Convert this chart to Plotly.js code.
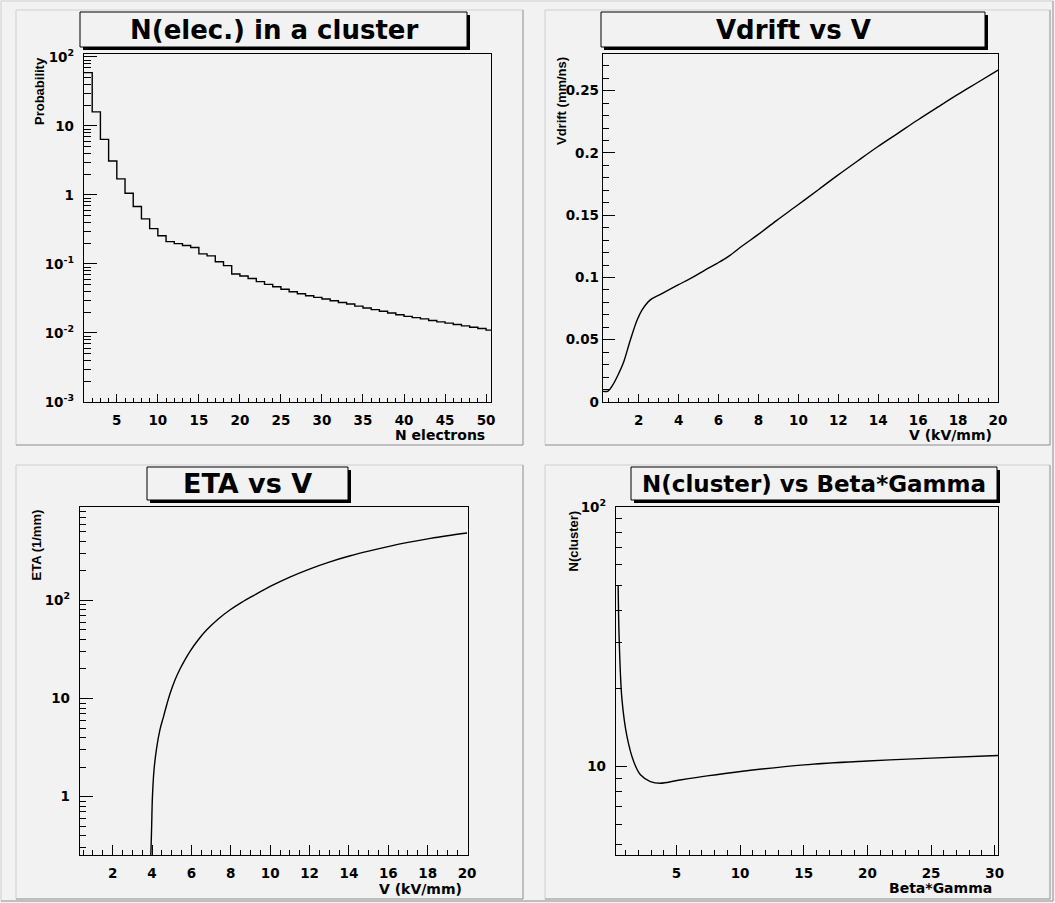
<!DOCTYPE html>
<html><head><meta charset="utf-8">
<script src="https://cdn.plot.ly/plotly-3.0.1.min.js"></script>
<style>html,body{margin:0;padding:0;background:#f2f2f2;overflow:hidden}#chart{width:1055px;height:903px}</style>
</head><body><div id="chart"></div>
<script>
// ---------- Data ----------
const nElectrons = [1,2,3,4,5,6,7,8,9,10,11,12,13,14,15,16,17,18,19,20,21,22,23,24,25,26,27,28,29,30,31,32,33,34,35,36,37,38,39,40,41,42,43,44,45,46,47,48,49,50];
const probability = [59.3,16.0,6.4,3.1,1.71,1.06,0.68,0.45,0.325,0.257,0.211,0.197,0.185,0.173,0.140,0.131,0.108,0.0946,0.0716,0.067,0.0615,0.0555,0.0507,0.0469,0.043,0.0395,0.0370,0.0347,0.0328,0.0311,0.0293,0.0277,0.0263,0.0245,0.0230,0.0218,0.0207,0.0195,0.0184,0.0174,0.0167,0.0160,0.0152,0.0145,0.0139,0.0133,0.0127,0.0121,0.0116,0.0110];

const vField = [0.21,0.46,0.7,1.0,1.25,1.58,1.92,2.17,2.58,3.09,3.97,4.76,5.3,5.93,6.5,7.2,7.94,8.9,9.95,11.0,11.96,13.0,13.97,15.0,15.98,17.0,17.99,19.0,20.0];
const vDrift = [0.0085,0.0088,0.0137,0.023,0.0324,0.0498,0.0659,0.074,0.082,0.0865,0.094,0.1007,0.1058,0.1114,0.117,0.1255,0.134,0.1457,0.158,0.1705,0.182,0.194,0.205,0.216,0.2265,0.237,0.247,0.2568,0.2666];

const etaField = [3.92,3.95,3.98,4.02,4.10,4.24,4.4,4.58,4.75,4.92,5.17,5.42,5.67,5.93,6.35,6.78,7.35,7.97,8.55,9.15,10.0,11.0,12.03,13.0,14.07,15.0,16.1,17.0,18.14,19.0,20.0];
const eta = [0.2,0.3,0.5,1.0,1.87,3.2,4.8,6.5,8.7,11.3,15.5,20.0,24.8,30.3,39.7,50.1,64.3,80.2,95.5,112,139,173,210,246,285,318,358,390,429,456,486];

const betaGamma = [0.42,0.5,0.72,1.12,1.64,2.17,2.95,3.74,5.05,7.41,10.04,15.03,20.02,25.0,30.26];
const nCluster = [50,31,18.1,13.0,10.45,9.29,8.75,8.62,8.83,9.2,9.57,10.15,10.5,10.77,11.03];

const probTickVals = [0.001,0.01,0.1,1,10,100];
const probTickText = ['10<sup>-3</sup>','10<sup>-2</sup>','10<sup>-1</sup>','1','10','10<sup>2</sup>'];
const nElecTickVals = [5,10,15,20,25,30,35,40,45,50];
const nElecTickText = ['5','10','15','20','25','30','35','40','45','50'];
const fieldTickVals = [2,4,6,8,10,12,14,16,18,20];
const fieldTickText = ['2','4','6','8','10','12','14','16','18','20'];
const vdriftTickVals = [0,0.05,0.1,0.15,0.2,0.25];
const vdriftTickText = ['0','0.05','0.1','0.15','0.2','0.25'];
const etaTickVals = [1,10,100];
const etaTickText = ['1','10','10<sup>2</sup>'];
const bgTickVals = [5,10,15,20,25,30];
const bgTickText = ['5','10','15','20','25','30'];
const nclTickVals = [10,100];
const nclTickText = ['10','10<sup>2</sup>'];

const titles = ['N(elec.) in a cluster','Vdrift vs V','ETA vs V','N(cluster) vs Beta*Gamma'];
const titleSizes = [26, 26, 27, 23];

// ---------- Helpers ----------
const W = 1055, H = 903;
const X = p => p / W;
const Y = p => 1 - p / H;
const WIDE = 'DejaVu Sans, Verdana, sans-serif';
const NARROW = 'Liberation Sans, Arial, Helvetica, sans-serif';
const BG = '#f2f2f2';
const B = s => '<b>' + s + '</b>';

function logMinors(lo, hi) {
  const out = [];
  for (let e = lo; e <= hi; e++) for (let m = 2; m <= 9; m++) out.push(m * Math.pow(10, e));
  return out;
}

function baseAxis(extra) {
  return Object.assign({
    showgrid: false, zeroline: false, showline: true, mirror: true,
    linecolor: '#000', linewidth: 1.3, ticks: 'inside', tickcolor: '#000', tickwidth: 1,
    tickfont: {family: WIDE, size: 13.5, color: '#000'},
    tickmode: 'array', fixedrange: true
  }, extra);
}

// step outline of the histogram built from its bins
const stepX = nElectrons.concat([nElectrons[nElectrons.length - 1] + 1]);
const stepY = probability.concat([probability[probability.length - 1]]);

const lineStyle = {color: '#000', width: 1.4};

const data = [
  {x: stepX, y: stepY, xaxis: 'x', yaxis: 'y', mode: 'lines', line: Object.assign({shape: 'hv'}, lineStyle), hoverinfo: 'skip'},
  {x: vField, y: vDrift, xaxis: 'x2', yaxis: 'y2', mode: 'lines', line: Object.assign({shape: 'spline', smoothing: 1}, lineStyle), hoverinfo: 'skip'},
  {x: etaField, y: eta, xaxis: 'x3', yaxis: 'y3', mode: 'lines', line: Object.assign({shape: 'spline', smoothing: 1}, lineStyle), hoverinfo: 'skip'},
  {x: betaGamma, y: nCluster, xaxis: 'x4', yaxis: 'y4', mode: 'lines', line: Object.assign({shape: 'spline', smoothing: 1}, lineStyle), hoverinfo: 'skip'}
];

// frames [left, right, top, bottom] in pixels
const F1 = [84, 491, 54, 402], F2 = [603, 998, 54, 402], F3 = [80, 468, 507, 855], F4 = [616, 998, 507, 855];

const xStand = 5, yStand = 6;

const layout = {
  width: W, height: H, margin: {l: 0, r: 0, t: 0, b: 0},
  paper_bgcolor: BG, plot_bgcolor: BG, showlegend: false,
  xaxis: baseAxis({domain: [X(F1[0]), X(F1[1])], anchor: 'y', range: [1, 50.6], tickvals: nElecTickVals, ticktext: nElecTickText.map(B), ticklen: 8, ticklabelstandoff: xStand,
    minor: {tickmode: 'linear', tick0: 0, dtick: 1, ticks: 'inside', ticklen: 4, tickcolor: '#000'}}),
  yaxis: baseAxis({domain: [Y(F1[3]), Y(F1[2])], anchor: 'x', type: 'log', range: [-3, 2.043], tickvals: probTickVals, ticktext: probTickText.map(B), ticklen: 13, ticklabelstandoff: yStand,
    minor: {tickmode: 'array', tickvals: logMinors(-3, 1), ticks: 'inside', ticklen: 7, tickcolor: '#000'}}),
  xaxis2: baseAxis({domain: [X(F2[0]), X(F2[1])], anchor: 'y2', range: [0.21, 20], tickvals: fieldTickVals, ticktext: fieldTickText.map(B), ticklen: 8, ticklabelstandoff: xStand,
    minor: {tickmode: 'linear', tick0: 0, dtick: 0.5, ticks: 'inside', ticklen: 4, tickcolor: '#000'}}),
  yaxis2: baseAxis({domain: [Y(F2[3]), Y(F2[2])], anchor: 'x2', range: [0, 0.2795], tickvals: vdriftTickVals, ticktext: vdriftTickText.map(B), ticklen: 12, ticklabelstandoff: 0,
    minor: {tickmode: 'linear', tick0: 0, dtick: 0.01, ticks: 'inside', ticklen: 6, tickcolor: '#000'}}),
  xaxis3: baseAxis({domain: [X(F3[0]), X(F3[1])], anchor: 'y3', range: [0.34, 20.05], tickvals: fieldTickVals, ticktext: fieldTickText.map(B), ticklen: 10, ticklabelstandoff: xStand,
    minor: {tickmode: 'linear', tick0: 0, dtick: 0.5, ticks: 'inside', ticklen: 5, tickcolor: '#000'}}),
  yaxis3: baseAxis({domain: [Y(F3[3]), Y(F3[2])], anchor: 'x3', type: 'log', range: [-0.595, 2.952], tickvals: etaTickVals, ticktext: etaTickText.map(B), ticklen: 13, ticklabelstandoff: yStand,
    minor: {tickmode: 'array', tickvals: logMinors(-1, 2), ticks: 'inside', ticklen: 6, tickcolor: '#000'}}),
  xaxis4: baseAxis({domain: [X(F4[0]), X(F4[1])], anchor: 'y4', range: [0.25, 30.26], tickvals: bgTickVals, ticktext: bgTickText.map(B), ticklen: 10, ticklabelstandoff: xStand,
    minor: {tickmode: 'linear', tick0: 0, dtick: 1, ticks: 'inside', ticklen: 5, tickcolor: '#000'}}),
  yaxis4: baseAxis({domain: [Y(F4[3]), Y(F4[2])], anchor: 'x4', type: 'log', range: [0.659, 2], tickvals: nclTickVals, ticktext: nclTickText.map(B), ticklen: 11, ticklabelstandoff: yStand,
    minor: {tickmode: 'array', tickvals: logMinors(0, 1), ticks: 'inside', ticklen: 6, tickcolor: '#000'}}),
  shapes: [],
  annotations: []
};

// pad borders (raised look)
function padBorder(l, r, t, b) {
  const light = '#cfcfcf', dark = '#8c8c8c';
  const ln = (x0, y0, x1, y1, c) => ({type: 'line', xref: 'paper', yref: 'paper', x0: X(x0), y0: Y(y0), x1: X(x1), y1: Y(y1), line: {color: c, width: 1}});
  return [ln(l, t, r, t, light), ln(l, t, l, b, light), ln(r, t, r, b, dark), ln(l, b, r, b, dark)];
}
layout.shapes.push(...padBorder(1, 1053, 1, 901));
layout.shapes.push(...padBorder(16, 523, 10, 445));
layout.shapes.push(...padBorder(545, 1050, 10, 445));
layout.shapes.push(...padBorder(16, 523, 465, 899));
layout.shapes.push(...padBorder(545, 1050, 465, 899));

// title boxes with shadow
const boxes = [[80, 467, 12, 47], [601, 985, 12, 47], [147, 348, 467, 500], [631, 997, 467, 500]];
boxes.forEach((b, i) => {
  layout.shapes.push({type: 'rect', xref: 'paper', yref: 'paper', x0: X(b[0] + 3), x1: X(b[1] + 3), y0: Y(b[3] + 3), y1: Y(b[2] + 3), fillcolor: '#000', line: {width: 0}});
  layout.shapes.push({type: 'rect', xref: 'paper', yref: 'paper', x0: X(b[0]), x1: X(b[1]), y0: Y(b[3]), y1: Y(b[2]), fillcolor: BG, line: {color: '#000', width: 1}});
  layout.annotations.push({xref: 'paper', yref: 'paper', x: X((b[0] + b[1]) / 2), y: Y((b[2] + b[3]) / 2), xanchor: 'center', yanchor: 'middle', showarrow: false,
    text: B(titles[i]), font: {family: WIDE, size: titleSizes[i], color: '#000'}});
});

// axis titles
const yf = {family: NARROW, size: 13, color: '#000'};
const xf = {family: WIDE, size: 14, color: '#000'};
function ytitle(text, cx, top) {
  return {xref: 'paper', yref: 'paper', x: X(cx), y: Y(top), xanchor: 'center', yanchor: 'top', textangle: -90, showarrow: false, text: B(text), font: yf};
}
function xtitle(text, right, cy) {
  return {xref: 'paper', yref: 'paper', x: X(right), y: Y(cy), xanchor: 'right', yanchor: 'middle', showarrow: false, text: B(text), font: xf};
}
layout.annotations.push(
  ytitle('Probability', 39, 55), xtitle('N electrons', 487, 435),
  ytitle('Vdrift (mm/ns)', 561, 55), xtitle('V (kV/mm)', 994, 435),
  ytitle('ETA (1/mm)', 36, 508), xtitle('V (kV/mm)', 464, 889),
  ytitle('N(cluster)', 573, 508), xtitle('Beta*Gamma', 994, 888)
);

Plotly.newPlot('chart', data, layout, {staticPlot: true, displayModeBar: false});
</script>
</body></html>
